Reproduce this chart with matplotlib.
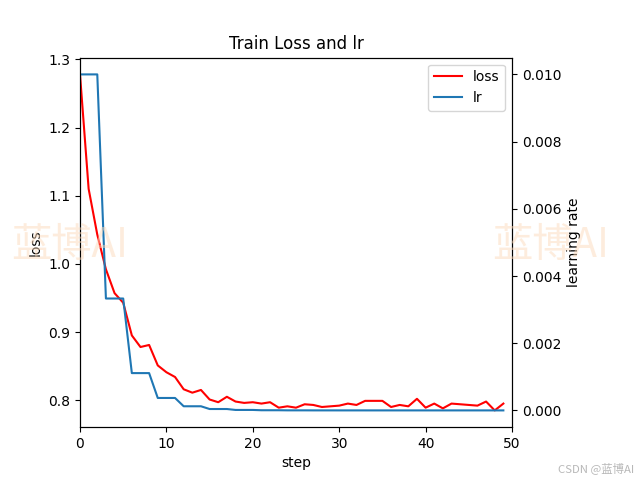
import matplotlib
matplotlib.use("Agg")
import matplotlib.pyplot as plt

plt.rcParams['font.family'] = ['DejaVu Sans', 'Noto Sans CJK SC']

steps = list(range(50))
loss = [1.278, 1.110, 1.043, 0.992, 0.957, 0.943, 0.895, 0.878, 0.881, 0.851,
        0.841, 0.834, 0.816, 0.811, 0.815, 0.801, 0.797, 0.805, 0.798, 0.796,
        0.797, 0.795, 0.797, 0.789, 0.791, 0.789, 0.794, 0.793, 0.790, 0.791,
        0.792, 0.795, 0.793, 0.799, 0.799, 0.799, 0.790, 0.793, 0.791, 0.802,
        0.789, 0.795, 0.788, 0.795, 0.794, 0.793, 0.792, 0.798, 0.785, 0.795]
lr = [0.01, 0.01, 0.01,
      0.00333, 0.00333, 0.00333,
      0.00111, 0.00111, 0.00111,
      0.00037, 0.00037, 0.00037,
      0.000123, 0.000123, 0.000123,
      0.0000412, 0.0000412, 0.0000412,
      0.0000137, 0.0000137, 0.0000137,
      0.00000457, 0.00000457, 0.00000457,
      0.00000152, 0.00000152, 0.00000152,
      0.00000051, 0.00000051, 0.00000051,
      0.00000017, 0.00000017, 0.00000017,
      0.000000056, 0.000000056, 0.000000056,
      0.000000019, 0.000000019, 0.000000019,
      0.0000000063, 0.0000000063, 0.0000000063,
      0.0000000021, 0.0000000021, 0.0000000021,
      0.0000000007, 0.0000000007, 0.0000000007,
      0.00000000023, 0.00000000023]

fig = plt.figure(figsize=(6.4, 4.8), dpi=100)
ax = fig.add_subplot(111)
fig.subplots_adjust(right=0.8)

ax.plot(steps, loss, color='red', label='loss')
ax.set_xlabel('step')
ax.set_ylabel('loss')
ax.set_xlim(0, 50)
ax.set_title('Train Loss and lr')

ax2 = ax.twinx()
ax2.plot(steps, lr, label='lr')
ax2.set_ylabel('learning rate')

h1, l1 = ax.get_legend_handles_labels()
h2, l2 = ax2.get_legend_handles_labels()
ax2.legend(h1 + h2, l1 + l2, loc='upper right')

wm_color = (0.99, 0.86, 0.74, 0.5)
fig.text(70 / 640, 1 - 245 / 480, '蓝博AI', fontsize=29, color=wm_color,
         ha='center', va='center', family=['Noto Sans CJK SC', 'DejaVu Sans'], zorder=0)
fig.text(551 / 640, 1 - 245 / 480, '蓝博AI', fontsize=29, color=wm_color,
         ha='center', va='center', family=['Noto Sans CJK SC', 'DejaVu Sans'], zorder=0)
fig.text(634 / 640, 1 - 468 / 480, 'CSDN @蓝博AI', fontsize=8.2, color='#b8b8b8',
         ha='right', va='center', family=['Noto Sans CJK SC', 'DejaVu Sans'])

fig.savefig('out.png', dpi=100)
